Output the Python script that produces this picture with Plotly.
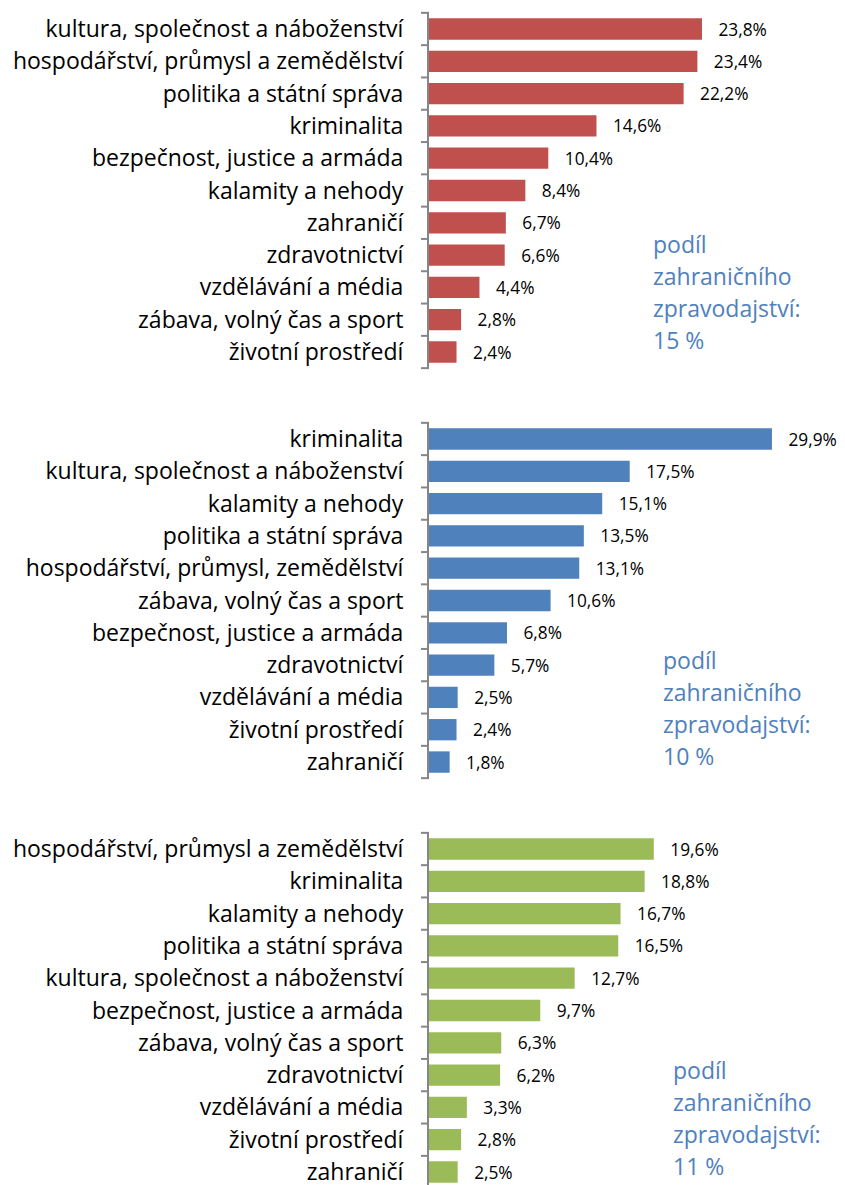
import plotly.graph_objects as go

cats1 = ["kultura, společnost a náboženství", "hospodářství, průmysl a zemědělství",
         "politika a státní správa", "kriminalita", "bezpečnost, justice a armáda",
         "kalamity a nehody", "zahraničí", "zdravotnictví", "vzdělávání a média",
         "zábava, volný čas a sport", "životní prostředí"]
vals1 = [23.8, 23.4, 22.2, 14.6, 10.4, 8.4, 6.7, 6.6, 4.4, 2.8, 2.4]

cats2 = ["kriminalita", "kultura, společnost a náboženství", "kalamity a nehody",
         "politika a státní správa", "hospodářství, průmysl, zemědělství",
         "zábava, volný čas a sport", "bezpečnost, justice a armáda", "zdravotnictví",
         "vzdělávání a média", "životní prostředí", "zahraničí"]
vals2 = [29.9, 17.5, 15.1, 13.5, 13.1, 10.6, 6.8, 5.7, 2.5, 2.4, 1.8]

cats3 = ["hospodářství, průmysl a zemědělství", "kriminalita", "kalamity a nehody",
         "politika a státní správa", "kultura, společnost a náboženství",
         "bezpečnost, justice a armáda", "zábava, volný čas a sport", "zdravotnictví",
         "vzdělávání a média", "životní prostředí", "zahraničí"]
vals3 = [19.6, 18.8, 16.7, 16.5, 12.7, 9.7, 6.3, 6.2, 3.3, 2.8, 2.5]

notes = [["podíl", "zahraničního", "zpravodajství:", "15 %"],
         ["podíl", "zahraničního", "zpravodajství:", "10 %"],
         ["podíl", "zahraničního", "zpravodajství:", "11 %"]]

colors = ["#C0504D", "#4F81BD", "#9BBB59"]
note_color = "#4F81BD"
FONT = "Open Sans"
W, H = 845, 1185
OFF = 8  # page body margin

# pixel geometry (screen, from top-left)
panel_top = [12.85, 422.85, 832.85]
step = 32.3
ax_left = 429

def px(x):
    return (x - OFF) / W

def py(y):
    return 1 - (y - OFF) / H

fig = go.Figure()
data = [(cats1, vals1), (cats2, vals2), (cats3, vals3)]
for i, (c, v) in enumerate(data):
    n = i + 1
    top = panel_top[i]
    bottom = top + step * len(c)
    fig.add_trace(go.Bar(
        y=list(range(len(c))), x=v, orientation="h",
        marker=dict(color=colors[i], line=dict(width=0)),
        text=["   " + f"{x:.1f}".replace(".", ",") + "%" for x in v],
        textposition="outside", cliponaxis=False, constraintext="none",
        textfont=dict(family=FONT, size=17.3, color="#000000"),
        xaxis=f"x{n}", yaxis=f"y{n}", showlegend=False, width=0.66,
    ))
    fig.layout[f"xaxis{n if n > 1 else ''}"] = dict(
        domain=[px(ax_left), 1], range=[0, (W + OFF - ax_left) / 11.47], visible=False,
        anchor=f"y{n}")
    fig.layout[f"yaxis{n if n > 1 else ''}"] = dict(
        domain=[py(bottom), py(top)], range=[len(c) - 0.5, -0.5],
        tickmode="array", tickvals=list(range(len(c))), ticktext=c,
        showline=True, linecolor="#868686", linewidth=2,
        ticks="", showgrid=False, zeroline=False,
        tickfont=dict(family=FONT, size=23, color="#000000"),
        ticklabelstandoff=19, automargin=False, anchor=f"x{n}")
    # boundary tick marks
    for k in range(len(c) + 1):
        yb = top + k * step
        fig.add_shape(type="line", xref="paper", yref="paper",
                      x0=px(ax_left - 8), x1=px(ax_left), y0=py(yb), y1=py(yb),
                      line=dict(color="#868686", width=2))

note_pos = [(653, 244), (663, 660), (673, 1070)]
for i, lines in enumerate(notes):
    x0, y0 = note_pos[i]
    for j, t in enumerate(lines):
        fig.add_annotation(text=t, xref="paper", yref="paper",
                           x=px(x0 - 2), y=py(y0 + j * 32), xanchor="left", yanchor="middle",
                           showarrow=False,
                           font=dict(family=FONT, size=23, color=note_color))

fig.update_layout(width=W, height=H, margin=dict(l=0, r=0, t=0, b=0),
                  plot_bgcolor="white", paper_bgcolor="white", bargap=0.34)
fig.write_html("out.html")
